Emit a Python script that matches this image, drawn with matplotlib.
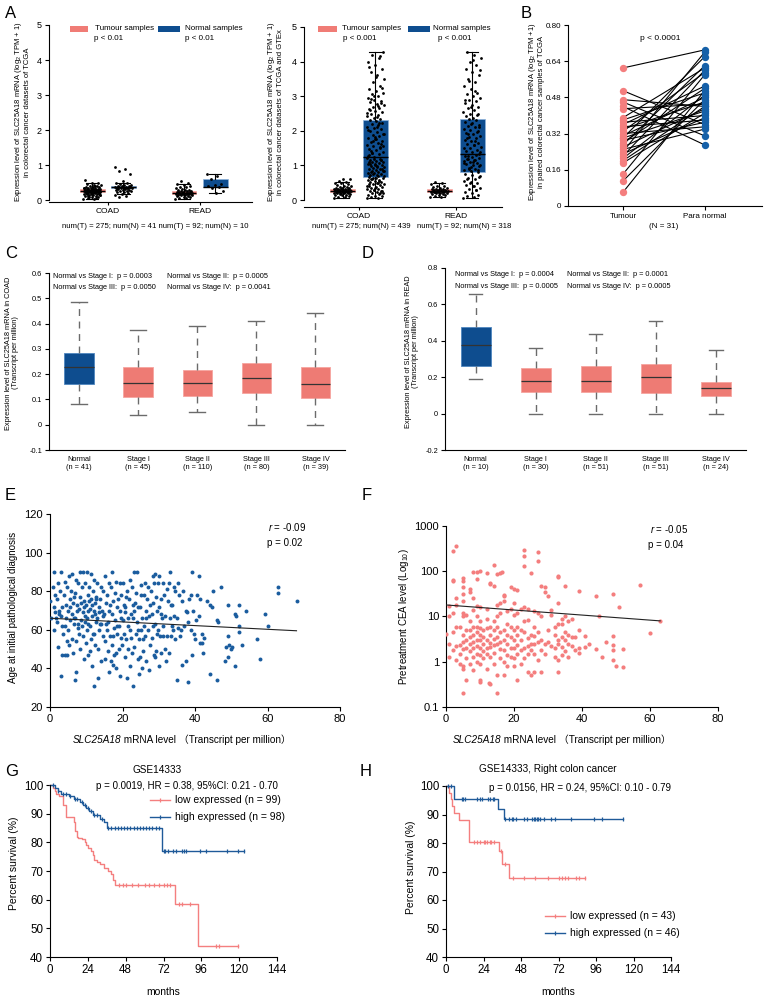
import numpy as np
import matplotlib.pyplot as plt
from matplotlib.lines import Line2D
from matplotlib.patches import Rectangle

plt.rcParams['font.family'] = ['Liberation Sans', 'DejaVu Sans']
plt.rcParams['mathtext.fontset'] = 'custom'
plt.rcParams['mathtext.rm'] = 'Liberation Sans'
plt.rcParams['mathtext.it'] = 'Liberation Sans:italic'
plt.rcParams['axes.linewidth'] = 0.8

W, H = 766, 996

RED = '#F07C76'
BLUE = '#0E4D8F'
PT_RED = '#F47E7E'
PT_BLUE = '#1A5C9E'

# ---------------- data ----------------
# panel A (left): TCGA only.  box stats = whislo, q1, med, q3, whishi
a1_groups = ['COAD', 'READ']
a1_box_t = [[0.02, 0.22, 0.27, 0.32, 0.50], [0.03, 0.16, 0.20, 0.26, 0.45]]
a1_box_n = [[0.18, 0.33, 0.36, 0.41, 0.50], [0.20, 0.36, 0.38, 0.60, 0.73]]
a1_coad_t = [0.02, 0.04, 0.06, 0.08, 0.10, 0.11, 0.12, 0.13, 0.14, 0.15, 0.16, 0.17, 0.18, 0.18, 0.19,
             0.20, 0.20, 0.21, 0.21, 0.22, 0.22, 0.23, 0.23, 0.24, 0.24, 0.24, 0.25, 0.25, 0.25, 0.26,
             0.26, 0.26, 0.27, 0.27, 0.27, 0.28, 0.28, 0.28, 0.29, 0.29, 0.30, 0.30, 0.31, 0.31, 0.32,
             0.32, 0.33, 0.33, 0.34, 0.35, 0.36, 0.37, 0.38, 0.39, 0.40, 0.42, 0.44, 0.46, 0.48, 0.50,
             0.58, 0.05, 0.09, 0.15, 0.19, 0.23, 0.27, 0.30, 0.35, 0.41, 0.12, 0.17, 0.22, 0.26, 0.29]
a1_coad_n = [0.95, 0.88, 0.82, 0.75, 0.55, 0.50, 0.48, 0.45, 0.43, 0.42, 0.41, 0.40, 0.39, 0.38,
             0.37, 0.36, 0.36, 0.35, 0.35, 0.34, 0.34, 0.33, 0.32, 0.31, 0.30, 0.29, 0.28, 0.27,
             0.26, 0.25, 0.24, 0.22, 0.20, 0.18, 0.15, 0.12, 0.10, 0.38, 0.37, 0.35, 0.33]
a1_read_t = [0.03, 0.05, 0.07, 0.09, 0.10, 0.11, 0.12, 0.13, 0.14, 0.15, 0.15, 0.16, 0.16, 0.17,
             0.17, 0.18, 0.18, 0.19, 0.19, 0.20, 0.20, 0.21, 0.21, 0.22, 0.22, 0.23, 0.24, 0.25,
             0.26, 0.27, 0.28, 0.29, 0.30, 0.32, 0.34, 0.36, 0.38, 0.40, 0.43, 0.46, 0.50, 0.55]
a1_read_n = [0.73, 0.70, 0.60, 0.45, 0.42, 0.40, 0.38, 0.35, 0.25, 0.20]

# panel A (right): TCGA + GTEx
a2_box_t = [[0.05, 0.23, 0.27, 0.32, 0.52], [0.08, 0.22, 0.27, 0.32, 0.50]]
a2_box_n = [[0.05, 0.68, 1.23, 2.30, 4.28], [0.05, 0.80, 1.32, 2.35, 4.28]]
a2_coad_t = [0.06, 0.08, 0.10, 0.12, 0.14, 0.15, 0.16, 0.17, 0.18, 0.19, 0.20, 0.20, 0.21, 0.21,
             0.22, 0.22, 0.23, 0.23, 0.24, 0.24, 0.25, 0.25, 0.26, 0.26, 0.27, 0.27, 0.28, 0.28,
             0.29, 0.29, 0.30, 0.30, 0.31, 0.31, 0.32, 0.32, 0.33, 0.34, 0.35, 0.36, 0.37, 0.38,
             0.40, 0.42, 0.44, 0.46, 0.48, 0.50, 0.53, 0.56, 0.60, 0.62]
a2_coad_n = [0.05, 0.07, 0.09, 0.11, 0.13, 0.15, 0.17, 0.19, 0.21, 0.23, 0.25, 0.27, 0.29, 0.31,
             0.33, 0.35, 0.37, 0.39, 0.41, 0.43, 0.45, 0.47, 0.49, 0.51, 0.53, 0.55, 0.57, 0.59,
             0.61, 0.63, 0.65, 0.67, 0.20, 0.30, 0.40, 0.50, 0.60, 0.25, 0.35, 0.45, 0.55, 0.65,
             0.69, 0.71, 0.73, 0.75, 0.77, 0.79, 0.81, 0.83, 0.85, 0.87, 0.89, 0.91, 0.93, 0.95,
             0.97, 0.99, 1.01, 1.03, 1.05, 1.07, 1.09, 1.11, 1.13, 1.15, 1.17, 1.19, 1.21, 0.70,
             0.80, 0.90, 1.00, 1.10, 1.20, 0.75, 0.85, 0.95, 1.05, 1.15,
             1.24, 1.28, 1.32, 1.36, 1.40, 1.44, 1.48, 1.52, 1.56, 1.60, 1.64, 1.68, 1.72, 1.76,
             1.80, 1.84, 1.88, 1.92, 1.96, 2.00, 2.04, 2.08, 2.12, 2.16, 2.20, 2.24, 2.28, 1.30,
             1.50, 1.70, 1.90, 2.10, 1.42, 1.62, 1.82, 2.02, 2.22, 1.35, 1.55, 1.75,
             2.31, 2.34, 2.38, 2.42, 2.46, 2.50, 2.54, 2.58, 2.62, 2.66, 2.70, 2.74, 2.78, 2.82,
             2.86, 2.90, 2.95, 3.00, 3.05, 3.10, 3.15, 3.20, 3.30, 3.40, 3.50, 3.60, 3.70, 3.80,
             3.90, 4.00, 4.10, 4.20, 4.28, 2.40, 2.60, 2.80, 3.00, 2.52, 2.72, 2.92, 3.25, 3.55,
             3.85, 4.15]
a2_read_t = [0.08, 0.10, 0.12, 0.14, 0.16, 0.17, 0.18, 0.19, 0.20, 0.21, 0.22, 0.22, 0.23, 0.23,
             0.24, 0.24, 0.25, 0.25, 0.26, 0.26, 0.27, 0.27, 0.28, 0.28, 0.29, 0.30, 0.31, 0.32,
             0.33, 0.34, 0.36, 0.38, 0.40, 0.42, 0.45, 0.48, 0.52]
a2_read_n = [0.05, 0.08, 0.12, 0.16, 0.20, 0.24, 0.28, 0.32, 0.36, 0.40, 0.44, 0.48, 0.52, 0.56,
             0.60, 0.64, 0.68, 0.72, 0.76, 0.30, 0.50, 0.70, 0.40, 0.60,
             0.82, 0.85, 0.88, 0.91, 0.94, 0.97, 1.00, 1.03, 1.06, 1.09, 1.12, 1.15, 1.18, 1.21,
             1.24, 1.27, 1.30, 0.90, 1.00, 1.10, 1.20, 0.86, 0.96, 1.06, 1.16, 1.26,
             1.34, 1.38, 1.42, 1.46, 1.50, 1.54, 1.58, 1.62, 1.66, 1.70, 1.74, 1.78, 1.82, 1.86,
             1.90, 1.94, 1.98, 2.02, 2.06, 2.10, 2.14, 2.18, 2.22, 2.26, 2.30, 2.34, 1.40, 1.60,
             1.80, 2.00, 2.20, 1.50, 1.70, 1.90, 2.10,
             2.38, 2.42, 2.46, 2.50, 2.55, 2.60, 2.65, 2.70, 2.75, 2.80, 2.85, 2.90, 2.95, 3.00,
             3.05, 3.10, 3.20, 3.30, 3.40, 3.50, 3.60, 3.70, 3.80, 3.90, 4.00, 4.10, 4.20, 4.28,
             2.50, 2.70, 2.90, 3.15, 3.45, 3.75, 4.05]

# panel B: paired samples (N = 31)
b_groups = ['Tumour', 'Para normal']
b_tumour = [0.61, 0.51, 0.47, 0.46, 0.44, 0.43, 0.39, 0.38, 0.37, 0.36, 0.35, 0.34, 0.33, 0.32,
            0.31, 0.30, 0.30, 0.29, 0.28, 0.27, 0.26, 0.25, 0.24, 0.23, 0.22, 0.21, 0.20, 0.19,
            0.14, 0.11, 0.06]
b_normal = [0.69, 0.36, 0.44, 0.31, 0.27, 0.45, 0.61, 0.50, 0.40, 0.53, 0.38, 0.46, 0.59, 0.35,
            0.48, 0.42, 0.66, 0.37, 0.52, 0.62, 0.43, 0.34, 0.68, 0.39, 0.60, 0.49, 0.44, 0.41,
            0.58, 0.47, 0.51]
b_yticks = [0, 0.16, 0.32, 0.48, 0.64, 0.80]
b_yticklabels = ['0', '0.16', '0.32', '0.48', '0.64', '0.80']

# panel C / D: stage boxplots
stage_names = ['Normal', 'Stage I', 'Stage II', 'Stage III', 'Stage IV']
c_n = [41, 45, 110, 80, 39]
c_box = [[0.08, 0.16, 0.23, 0.285, 0.485], [0.04, 0.11, 0.165, 0.23, 0.375],
         [0.05, 0.115, 0.165, 0.215, 0.39], [0.0, 0.125, 0.185, 0.245, 0.41],
         [0.0, 0.105, 0.16, 0.23, 0.44]]
c_p = ['0.0003', '0.0005', '0.0050', '0.0041']
d_n = [10, 30, 51, 51, 24]
d_box = [[0.19, 0.26, 0.375, 0.475, 0.655], [0.0, 0.12, 0.18, 0.25, 0.36],
         [0.0, 0.12, 0.18, 0.26, 0.44], [0.0, 0.115, 0.20, 0.275, 0.51],
         [0.0, 0.095, 0.14, 0.175, 0.35]]
d_p = ['0.0004', '0.0001', '0.0005', '0.0005']
c_yticks = [-0.1, 0, 0.1, 0.2, 0.3, 0.4, 0.5, 0.6]
c_yticklabels = ['-0.1', '0', '0.1', '0.2', '0.3', '0.4', '0.5', '0.6']
d_yticks = [-0.2, 0, 0.2, 0.4, 0.6, 0.8]
d_yticklabels = ['-0.2', '0', '0.2', '0.4', '0.6', '0.8']

# panel E: SLC25A18 TPM vs age
e_pts = [(41.2, 88), (40.6, 78), (41.5, 76), (41, 67), (41.3, 53), (42, 58), (42.4, 56), (41.8, 53),
         (42.3, 48), (43.2, 75), (44, 73), (44.2, 37), (45.1, 80), (44.6, 72), (46, 65), (46.3, 64),
         (46, 34), (47.2, 82), (48.3, 44), (48.6, 51), (49, 73), (49.1, 57), (49.4, 52), (49, 46),
         (50.2, 51), (49.8, 50), (51, 68), (51.2, 67), (51, 41), (52, 73), (52.1, 62), (52, 59),
         (53, 52), (54.2, 70), (57, 55), (58, 45), (59.2, 68), (60, 62), (63, 82), (63, 79), (68, 75),
         (35.2, 84), (34.6, 80), (35.5, 78), (35, 66), (35.3, 61), (35.1, 34), (36.4, 75), (36, 60),
         (35.8, 57), (36.3, 42), (37.1, 62), (37.4, 44), (38.3, 76), (37.7, 69), (38, 33), (39.2, 90),
         (38.8, 78), (39.4, 70), (39, 60), (39.6, 58), (39.1, 47), (40.3, 65), (40, 55), (36.7, 80),
         (37.5, 70), (38.2, 64), (34.2, 67), (33.7, 73), (34.5, 55), (34.1, 82),
         (30.2, 88), (29.7, 84), (30.5, 76), (30.1, 72), (30.6, 68), (29.8, 60), (30.3, 57),
         (30.7, 48), (30, 41), (31.2, 84), (31.5, 78), (30.9, 66), (31.3, 57), (31.6, 50), (32.2, 81),
         (31.8, 67), (32.4, 57), (32, 44), (33.1, 90), (32.7, 84), (33.4, 73), (33, 66), (33.3, 57),
         (32.8, 48), (34, 60), (31.1, 62), (32.5, 75), (33.6, 62),
         (25.1, 78), (24.7, 72), (25.4, 66), (25, 60), (25.6, 55), (24.8, 46), (25.3, 40), (26.2, 84),
         (25.9, 78), (26.5, 70), (26, 62), (26.3, 57), (25.7, 49), (26.6, 44), (27.1, 82), (26.8, 76),
         (27.4, 67), (27, 60), (27.6, 52), (27.2, 39), (28.3, 88), (27.9, 80), (28.5, 74), (28, 68),
         (28.2, 56), (28.7, 47), (29.1, 89), (28.8, 84), (29.4, 70), (29, 63), (29.6, 58), (29.2, 49),
         (28.9, 46), (27.5, 73), (28.4, 62), (26.4, 66), (25.2, 83), (29.3, 77),
         (20.2, 84), (19.7, 78), (20.5, 73), (20, 65), (20.3, 58), (19.8, 52), (20.6, 46), (21.2, 80),
         (20.8, 72), (21.4, 62), (21, 55), (21.6, 50), (21.3, 35), (22.1, 86), (21.8, 76), (22.4, 68),
         (22, 60), (22.6, 48), (22.2, 41), (23.1, 90), (22.7, 82), (23.4, 74), (23, 66), (23.6, 58),
         (23.2, 51), (23, 31), (24.1, 90), (23.8, 79), (24.4, 72), (24, 64), (24.6, 55), (24.2, 45),
         (24.5, 37), (20.7, 69), (21.5, 66), (22.3, 56), (23.3, 70), (24.3, 60), (22.8, 73),
         (21.1, 77),
         (15.2, 88), (14.7, 80), (15.4, 74), (15, 68), (15.6, 60), (15.1, 54), (15.3, 45), (16.2, 84),
         (15.8, 78), (16.4, 70), (16, 64), (16.6, 57), (16.1, 49), (16.3, 38), (17.2, 90), (16.8, 82),
         (17.4, 75), (17, 68), (17.6, 61), (17.1, 52), (17.3, 42), (18.2, 85), (17.8, 79), (18.4, 72),
         (18, 65), (18.6, 58), (18.1, 48), (18.3, 40), (19.2, 84), (18.8, 76), (19.4, 70), (19, 62),
         (19.6, 56), (19.1, 50), (19.3, 36), (15.5, 63), (16.5, 73), (17.5, 57), (18.5, 62),
         (19.5, 66), (17.7, 47), (16.7, 44),
         (10.2, 90), (9.7, 84), (10.4, 78), (10, 73), (10.6, 70), (10.1, 66), (10.3, 60), (9.8, 53),
         (10.5, 47), (11.2, 89), (10.8, 82), (11.4, 76), (11, 71), (11.6, 67), (11.1, 62), (11.3, 55),
         (10.9, 49), (11.5, 41), (12.2, 86), (11.8, 80), (12.4, 74), (12, 70), (12.6, 64), (12.1, 58),
         (12.3, 52), (12.2, 31), (13.1, 84), (12.8, 77), (13.4, 72), (13, 66), (13.6, 60), (13.2, 50),
         (13.3, 35), (14.2, 82), (13.8, 76), (14.4, 70), (14, 63), (14.6, 57), (14.1, 44), (10.7, 75),
         (11.7, 73), (12.5, 68), (13.5, 69), (14.5, 67), (12.7, 76), (13.7, 63), (11.9, 58),
         (10.4, 63),
         (5.2, 88), (4.7, 82), (5.4, 76), (5, 70), (5.6, 65), (5.1, 60), (5.3, 52), (4.8, 47),
         (6.2, 89), (5.8, 80), (6.4, 74), (6, 68), (6.6, 63), (6.1, 55), (6.3, 48), (7.2, 86),
         (6.8, 79), (7.4, 73), (7, 66), (7.6, 61), (7.1, 54), (7.3, 38), (7, 34), (8.2, 90), (7.8, 84),
         (8.4, 77), (8, 71), (8.6, 65), (8.1, 58), (8.3, 50), (9.2, 90), (8.8, 82), (9.4, 75), (9, 69),
         (9.6, 64), (9.1, 57), (9.3, 45), (5.5, 72), (6.5, 66), (7.5, 70), (8.5, 74), (9.5, 72),
         (8.7, 62), (6.7, 77), (7.7, 63), (9.7, 67),
         (0, 75), (0.2, 66), (1.2, 90), (0.8, 82), (1.4, 78), (1, 72), (1.6, 66), (1.1, 60), (2.2, 84),
         (1.8, 76), (2.4, 70), (2, 64), (2.3, 51), (3.1, 90), (2.8, 80), (3.4, 72), (3, 67), (3.6, 58),
         (3.2, 47), (3.1, 36), (4.2, 85), (3.8, 78), (4.4, 73), (4, 62), (4.6, 54), (4.1, 47),
         (2.6, 68), (3.3, 62), (4.3, 66), (1.3, 69)]
e_fit_x = [0, 68]
e_fit_y = [66, 59.5]

# panel F: SLC25A18 TPM vs CEA
f_pts = [(0, 4.2), (1, 17), (1, 10), (1, 2.5), (1, 1.3), (2, 280), (2, 65), (2, 60), (2, 12), (2, 4.5),
         (2, 1.8), (3, 360), (3, 25), (3, 18), (3, 5.8), (3, 2.2), (3, 1.1), (4, 6), (4, 2.4), (4, 1.5),
         (4, 0.9), (5, 70), (5, 62), (5, 45), (5, 32), (5, 22), (5, 12), (5, 10), (5, 4), (5, 2.7),
         (5, 1.9), (5, 0.8), (5, 0.7), (5, 0.2), (6, 11), (6, 5), (6, 3), (6, 2), (6, 1.2), (6, 0.4),
         (7, 40), (7, 35), (7, 8), (7, 5), (7, 3.5), (7, 2.5), (7, 1.7), (7, 0.9), (8, 97), (8, 25),
         (8, 14), (8, 6), (8, 4), (8, 2.8), (8, 2), (8, 1.3), (8, 0.65), (9, 98), (9, 66), (9, 17),
         (9, 10), (9, 6), (9, 4.5), (9, 3), (9, 2.2), (9, 1.5), (9, 1.0), (10, 100), (10, 16), (10, 8),
         (10, 5.5), (10, 4), (10, 3), (10, 2), (10, 1.4), (10, 0.9), (10, 0.4), (10, 0.35), (11, 5),
         (11, 3.5), (11, 2.5), (11, 1.7), (11, 1.2), (12, 90), (12, 15), (12, 9), (12, 5.5), (12, 3),
         (12, 2), (12, 1.5), (12, 0.7), (13, 52), (13, 55), (13, 6), (13, 4), (13, 2.6), (13, 2.1),
         (13, 1.3), (13, 0.33), (12.5, 0.34), (14, 135), (14, 48), (14, 8), (14, 5), (14, 3.2),
         (14, 2.3), (14, 1.6), (14, 0.9), (15, 85), (15, 18), (15, 10), (15, 6), (15, 3.5), (15, 2.5),
         (15, 0.2), (15, 0.5), (16, 90), (16.5, 95), (16, 20), (16, 12), (16, 4.5), (16, 2.8), (16, 1.9),
         (16, 1.2), (17, 30), (17, 28), (17, 22), (17, 5), (17, 3), (17, 1.8), (17, 1.0), (17, 0.5),
         (18, 13), (18, 7), (18, 4), (18, 2.5), (18, 1.4), (18, 0.8), (19, 45), (19, 15), (19, 6),
         (19, 3.5), (19, 2), (19, 1.3), (20, 40), (20, 20), (20, 11), (20, 5), (20, 3), (20, 2),
         (20, 1.2), (20, 0.8), (21, 38), (21, 12), (21, 6), (21, 4), (21, 2.4), (21, 1.5), (21, 0.4),
         (22, 15), (22, 5), (22, 3), (22, 1.8), (22, 0.9), (23, 300), (23, 220), (23, 130), (23, 16),
         (23, 8), (23, 4.5), (23, 2), (23, 1.2), (24, 15), (24, 8.5), (24, 3.3), (24, 2.2), (24, 1.5),
         (24, 0.6), (25, 90), (25, 4), (25, 2.5), (25, 1.8), (25, 0.5), (26, 13), (26, 6), (26, 3.8),
         (26, 2.5), (26, 1.5), (26, 0.6), (27, 260), (27, 170), (27, 12), (27, 4.5), (27, 2.8),
         (27, 1.1), (28, 48), (28, 10), (28, 3), (28, 1.8), (28, 0.6), (29, 45), (29, 35), (29, 2.5),
         (29, 1.5), (30, 28), (30, 5), (30, 2.8), (31, 14), (31, 11), (31, 2.2), (32, 6), (32, 4),
         (32, 2), (32, 1.3), (33, 80), (33, 75), (33, 20), (33, 7), (33, 3), (33, 2.5), (33, 1.1),
         (33, 0.6), (34, 9), (34, 7), (34, 3.5), (34, 2.1), (34, 1.4), (35, 48), (35, 10), (35, 4.5),
         (35, 3), (35, 1.7), (36, 8), (36, 4), (36, 2.5), (36, 1.3), (37, 9), (37, 3.5), (37, 2.2),
         (38, 3.5), (38, 1.8), (39, 36), (39, 5), (39, 2), (39, 1.6), (41, 3.7), (41, 2.1), (42, 2.5),
         (44, 28), (44, 1.9), (45, 10), (46, 1.3), (47, 2.8), (49, 31), (49, 3.7), (49, 2.3),
         (49, 1.8), (49, 1.1), (50, 0.8), (51, 16), (52, 1.9), (52, 0.75), (57, 49), (60, 4.3), (63, 8)]
f_fit_x = [0, 63]
f_fit_y = [18, 8]
f_yticks = [0.1, 1, 10, 100, 1000]
f_yticklabels = ['0.1', '1', '10', '100', '1000']

# panel G: GSE14333 survival
g_low_t = [0, 2, 3, 4, 6, 8, 10, 15, 16, 17, 18, 20, 22, 23, 24, 26, 27, 28, 30, 32, 34, 37, 39, 40,
           41, 79, 94, 119]
g_low_s = [100, 99, 98, 97, 96, 93, 89, 87, 84, 82, 81.5, 81, 80, 79, 78, 77, 75.5, 74, 73, 72.5, 71,
           70, 69, 67, 65, 58.5, 44, 44]
g_low_c = [44, 46, 48, 52, 56, 60, 63, 66, 69, 72, 74, 76, 82, 84, 89, 105, 107, 119]
g_high_t = [0, 3, 5, 7, 12, 15, 19, 21, 23, 25, 27, 32, 34, 36, 71, 123]
g_high_s = [100, 99, 98, 97, 96, 95, 94, 93, 92, 91, 89.5, 88, 87, 85, 77, 77]
g_high_c = [2, 5, 8, 10, 13, 16, 17, 20, 22, 24, 26, 28, 30, 33, 37, 39, 41, 43, 45, 47, 49, 51, 53,
            55, 57, 59, 61, 63, 65, 67, 69, 72, 73, 75, 78, 80, 84, 85, 86, 95, 99, 112, 119, 123]

# panel H: GSE14333, right colon cancer
h_low_t = [0, 2, 3, 4, 5, 8, 15, 34, 36, 40, 89]
h_low_s = [100, 97.7, 95.3, 93, 90.7, 88.1, 80.5, 77.3, 72.6, 67.8, 67.8]
h_low_c = [18, 20, 22, 24, 25, 26, 28, 29, 31, 35, 38, 43, 50, 57, 65, 72, 74, 76, 78, 83, 85, 89]
h_high_t = [0, 5, 33, 37, 113]
h_high_s = [100, 95.3, 91.9, 88.4, 88.4]
h_high_c = [1, 3, 10, 11, 12, 20, 22, 23, 27, 28, 30, 31, 38, 40, 42, 43, 45, 50, 52, 55, 56, 57,
            58, 59, 60, 63, 67, 70, 80, 95, 100, 113]

# ---------------- helpers ----------------
fig = plt.figure(figsize=(W / 100, H / 100), dpi=100)


def axes_px(l, t, r, b):
    ax = fig.add_axes([l / W, 1 - b / H, (r - l) / W, (b - t) / H])
    ax.spines['top'].set_visible(False)
    ax.spines['right'].set_visible(False)
    return ax


def ftext(x, y, s, **kw):
    kw.setdefault('va', 'center')
    return fig.text(x / W, 1 - y / H, s, **kw)


def box_stats(rows):
    return [dict(whislo=r[0], q1=r[1], med=r[2], q3=r[3], whishi=r[4]) for r in rows]


def strip(ax, x0, vals, half):
    n = len(vals)
    off = ((np.arange(n) * 0.618034) % 1.0 - 0.5) * 2 * half
    ax.scatter(x0 + off, vals, s=4, c='black', lw=0, zorder=5)


def fig_rect(x, y, w, h, color):
    fig.add_artist(Rectangle((x / W, 1 - (y + h) / H), w / W, h / H, transform=fig.transFigure,
                             facecolor=color, edgecolor='none'))


def ab_panel(ax, box_t, box_n, pts_t, pts_n, off, width):
    pos = np.arange(1, len(a1_groups) + 1)
    for stats, p, col in [(box_t, pos - off, RED), (box_n, pos + off, BLUE)]:
        art = ax.bxp(box_stats(stats), positions=p, widths=width, patch_artist=True, showfliers=False,
                     manage_ticks=False, capwidths=width * 0.5,
                     whiskerprops=dict(color='black', lw=0.8), capprops=dict(color='black', lw=0.8),
                     medianprops=dict(color='black', lw=1.0), boxprops=dict(lw=0.5))
        for b in art['boxes']:
            b.set_facecolor(col)
            b.set_edgecolor('#8fb4dc' if col == BLUE else '#f6a7a2')
    for i in range(len(a1_groups)):
        strip(ax, pos[i] - off, pts_t[i], width * 0.35)
        strip(ax, pos[i] + off, pts_n[i], width * 0.35)
    ax.set_xticks(pos)
    ax.set_xticklabels(a1_groups, fontsize=6)
    ax.set_yticks([0, 1, 2, 3, 4, 5])
    ax.tick_params(axis='y', labelsize=6.5, length=3, width=0.8, pad=2)
    ax.tick_params(axis='x', length=2, width=0.8, pad=2)
    ax.spines['left'].set_bounds(0, 5)


def stage_panel(ax, rows, ns, capw):
    pos = np.arange(1, len(stage_names) + 1)
    art = ax.bxp(box_stats(rows), positions=pos, widths=0.5, patch_artist=True, showfliers=False,
                 manage_ticks=False, capwidths=capw,
                 whiskerprops=dict(color='#6b6b6b', lw=1.0, linestyle=(0, (5, 4))),
                 capprops=dict(color='#6b6b6b', lw=1.0),
                 medianprops=dict(color='#333333', lw=0.9), boxprops=dict(lw=0.6))
    for i, b in enumerate(art['boxes']):
        if i == 0:
            b.set_facecolor(BLUE)
            b.set_edgecolor('#4f86c0')
        else:
            b.set_facecolor('#EE7B74')
            b.set_edgecolor('#F6A59F')
    ax.set_xticks(pos)
    ax.set_xticklabels(['%s\n(n = %d)' % (s, n) for s, n in zip(stage_names, ns)], fontsize=5.3,
                       linespacing=1.35)
    ax.tick_params(axis='x', length=0, pad=4)
    ax.tick_params(axis='y', labelsize=5.3, length=3, width=0.8, pad=2)
    ax.set_xlim(0.49, 5.5)


def km(ax, t, s, cens, color):
    ax.step(t, s, where='post', color=color, lw=1.0, clip_on=False)
    idx = np.searchsorted(t, cens, side='right') - 1
    ax.plot(cens, np.array(s)[idx], ls='none', marker='|', ms=3.5, mew=0.9, color=color,
            clip_on=False)


def km_legend_item(x, y, label, color):
    fig.add_artist(Line2D([x / W, (x + 20) / W], [1 - y / H, 1 - y / H], transform=fig.transFigure,
                          color=color, lw=1.0))
    fig.add_artist(Line2D([(x + 10) / W], [1 - y / H], transform=fig.transFigure, color=color,
                          marker='|', ms=3.5, mew=0.9))
    ftext(x + 25, y, label, fontsize=7.5, ha='left')


def km_axes(ax):
    ax.set_xlim(0, 144)
    ax.set_ylim(40, 100)
    ax.set_xticks([0, 24, 48, 72, 96, 120, 144])
    ax.set_yticks([40, 50, 60, 70, 80, 90, 100])
    ax.tick_params(labelsize=8.3, length=3, width=0.8, pad=2)
    ax.set_xlabel('months', fontsize=7.5, labelpad=8)


# ---------------- panel A ----------------
ax = axes_px(49, 25, 252, 202)
ab_panel(ax, a1_box_t, a1_box_n, [a1_coad_t, a1_read_t], [a1_coad_n, a1_read_n], 0.17, 0.27)
ax.set_xlim(0.36, 2.57)
ax.set_ylim(-0.057, 5)
ftext(22, 112, 'Expression level of SLC25A18 mRNA (log$_2$ TPM + 1)\nin colorectal cancer datasets of TCGA',
      rotation=90, ha='center', fontsize=5.5, multialignment='center', linespacing=1.1)
fig_rect(70, 26, 18, 6, RED)
fig_rect(158, 26, 22, 6, BLUE)
ftext(95, 29, 'Tumour samples', fontsize=5.8, ha='left')
ftext(185, 29, 'Normal samples', fontsize=5.8, ha='left')
ftext(94, 38, 'p < 0.01', fontsize=5.8, ha='left')
ftext(185, 38, 'p < 0.01', fontsize=5.8, ha='left')
ftext(155, 227, 'num(T) = 275; num(N) = 41 num(T) = 92; num(N) = 10', fontsize=5.6, ha='center')

ax = axes_px(304, 27, 502, 207)
ab_panel(ax, a2_box_t, a2_box_n, [a2_coad_t, a2_read_t], [a2_coad_n, a2_read_n], 0.17, 0.26)
ax.set_xlim(0.43, 2.48)
ax.set_ylim(-0.2, 5)
ftext(275, 112, 'Expression level of SLC25A18 mRNA (log$_2$ TPM + 1)\nin colorectal cancer datasets of TCGA and GTEx',
      rotation=90, ha='center', fontsize=5.5, multialignment='center', linespacing=1.1)
fig_rect(318, 26, 19, 6, RED)
fig_rect(408, 26, 22, 6, BLUE)
ftext(342, 29, 'Tumour samples', fontsize=5.8, ha='left')
ftext(433, 29, 'Normal samples', fontsize=5.8, ha='left')
ftext(343, 39, 'p < 0.001', fontsize=5.8, ha='left')
ftext(438, 39, 'p < 0.001', fontsize=5.8, ha='left')
ftext(412, 227, 'num(T) = 275; num(N) = 439   num(T) = 92; num(N) = 318', fontsize=5.6, ha='center')

# ---------------- panel B ----------------
ax = axes_px(568, 25, 762, 206)
for t, n in zip(b_tumour, b_normal):
    ax.plot([0, 1], [t, n], color='black', lw=0.8, zorder=2)
ax.scatter(np.zeros(len(b_tumour)), b_tumour, s=28, color=PT_RED, lw=0, zorder=3, clip_on=False)
ax.scatter(np.ones(len(b_normal)), b_normal, s=28, color='#1560A8', lw=0, zorder=3, clip_on=False)
ax.set_xlim(-0.67, 1.70)
ax.set_ylim(0, 0.8)
ax.set_yticks(b_yticks)
ax.set_yticklabels(b_yticklabels)
ax.set_xticks([0, 1])
ax.set_xticklabels(b_groups)
ax.tick_params(labelsize=5.8, length=3, width=0.8, pad=2)
ftext(660, 39, 'p < 0.0001', fontsize=6, ha='center')
ftext(536, 112, 'Expression level of SLC25A18 mRNA (log$_2$ TPM +1)\nin paired colorectal cancer samples of TCGA',
      rotation=90, ha='center', fontsize=5.5, multialignment='center', linespacing=1.1)
ftext(664, 227, '(N = 31)', fontsize=5.8, ha='center')

# ---------------- panel C ----------------
ax = axes_px(49, 273, 345, 450)
stage_panel(ax, c_box, c_n, 0.27)
ax.set_ylim(-0.1, 0.6)
ax.set_yticks(c_yticks)
ax.set_yticklabels(c_yticklabels)
ftext(53, 276, 'Normal vs Stage I:  p = %s' % c_p[0], fontsize=5.3, ha='left')
ftext(167, 276, 'Normal vs Stage II:  p = %s' % c_p[1], fontsize=5.3, ha='left')
ftext(53, 287, 'Normal vs Stage III:  p = %s' % c_p[2], fontsize=5.3, ha='left')
ftext(167, 287, 'Normal vs Stage IV:  p = %s' % c_p[3], fontsize=5.3, ha='left')
ftext(12, 353, 'Expression level of SLC25A18 mRNA in COAD\n(Transcript per million)', rotation=90,
      ha='center', fontsize=5.3, multialignment='center', linespacing=1.1)

# ---------------- panel D ----------------
ax = axes_px(445, 268, 746, 450)
stage_panel(ax, d_box, d_n, 0.22)
ax.set_ylim(-0.2, 0.8)
ax.set_yticks(d_yticks)
ax.set_yticklabels(d_yticklabels)
ftext(455, 275, 'Normal vs Stage I:  p = %s' % d_p[0], fontsize=5.3, ha='left')
ftext(567, 275, 'Normal vs Stage II:  p = %s' % d_p[1], fontsize=5.3, ha='left')
ftext(455, 286, 'Normal vs Stage III:  p = %s' % d_p[2], fontsize=5.3, ha='left')
ftext(567, 286, 'Normal vs Stage IV:  p = %s' % d_p[3], fontsize=5.3, ha='left')
ftext(412, 352, 'Expression level of SLC25A18 mRNA in READ\n(Transcript per million)', rotation=90,
      ha='center', fontsize=5.3, multialignment='center', linespacing=1.1)

# ---------------- panel E ----------------
ax = axes_px(50, 514, 340, 707)
ex, ey = zip(*e_pts)
ax.scatter(ex, ey, s=8, color=PT_BLUE, lw=0, zorder=3)
ax.plot(e_fit_x, e_fit_y, color='#222222', lw=0.8, zorder=4)
ax.set_xlim(0, 80)
ax.set_ylim(20, 120)
ax.set_xticks([0, 20, 40, 60, 80])
ax.set_yticks([20, 40, 60, 80, 100, 120])
ax.tick_params(labelsize=8, length=3, width=0.8, pad=2)
ftext(268, 527, '$r$ = -0.09', fontsize=7, ha='left')
ftext(267, 543, 'p = 0.02', fontsize=7, ha='left')
ftext(13, 607, 'Age at initial pathological diagnosis', rotation=90, ha='center', fontsize=7)
ftext(121, 740, 'SLC25A18', fontsize=7.2, ha='right', style='italic')
ftext(121, 740, ' mRNA level （Transcript per million）', fontsize=7.2, ha='left',
      family=['Liberation Sans', 'Noto Sans CJK SC'])

# ---------------- panel F ----------------
ax = axes_px(446, 526, 718, 707)
fx_, fy_ = zip(*f_pts)
ax.scatter(fx_, fy_, s=9, color=PT_RED, lw=0, zorder=3)
ax.plot(f_fit_x, f_fit_y, color='#222222', lw=0.8, zorder=4)
ax.set_yscale('log')
ax.set_xlim(0, 80)
ax.set_ylim(0.1, 1000)
ax.set_xticks([0, 20, 40, 60, 80])
ax.set_yticks(f_yticks)
ax.set_yticklabels(f_yticklabels)
ax.minorticks_off()
ax.tick_params(labelsize=8, length=3, width=0.8, pad=2)
ftext(650, 529, '$r$ = -0.05', fontsize=7, ha='left')
ftext(648, 545, 'p = 0.04', fontsize=7, ha='left')
ftext(404, 617, 'Pretreatment CEA level (Log$_{10}$)', rotation=90, ha='center', fontsize=7)
ftext(501, 740, 'SLC25A18', fontsize=7.2, ha='right', style='italic')
ftext(501, 740, ' mRNA level （Transcript per million）', fontsize=7.2, ha='left',
      family=['Liberation Sans', 'Noto Sans CJK SC'])

# ---------------- panel G ----------------
ax = axes_px(50, 785, 277, 957)
km(ax, g_low_t, g_low_s, g_low_c, '#F47F7F')
km(ax, g_high_t, g_high_s, g_high_c, '#1F5A99')
km_axes(ax)
ftext(14, 863, 'Percent survival (%)', rotation=90, ha='center', fontsize=7.5)
ftext(157, 770, 'GSE14333', fontsize=7.2, ha='center')
ftext(187, 786, 'p = 0.0019, HR = 0.38, 95%CI: 0.21 - 0.70', fontsize=7, ha='center')
km_legend_item(150, 800, 'low expressed (n = 99)', '#F47F7F')
km_legend_item(150, 817, 'high expressed (n = 98)', '#1F5A99')

# ---------------- panel H ----------------
ax = axes_px(446, 786, 671, 957)
km(ax, h_low_t, h_low_s, h_low_c, '#F47F7F')
km(ax, h_high_t, h_high_s, h_high_c, '#1F5A99')
km_axes(ax)
ftext(411, 867, 'Percent survival (%)', rotation=90, ha='center', fontsize=7.5)
ftext(548, 769, 'GSE14333, Right colon cancer', fontsize=7.2, ha='center')
ftext(580, 788, 'p = 0.0156, HR = 0.24, 95%CI: 0.10 - 0.79', fontsize=7, ha='center')
km_legend_item(545, 916, 'low expressed (n = 43)', '#F47F7F')
km_legend_item(545, 933, 'high expressed (n = 46)', '#1F5A99')

# ---------------- panel letters ----------------
for letter, x, y in [('A', 5, 14), ('B', 521, 13), ('C', 5, 253), ('D', 362, 253),
                     ('E', 5, 495), ('F', 362, 495), ('G', 5, 771), ('H', 360, 771)]:
    ftext(x, y, letter, fontsize=12, ha='left')

fig.savefig('out.png', dpi=100)
